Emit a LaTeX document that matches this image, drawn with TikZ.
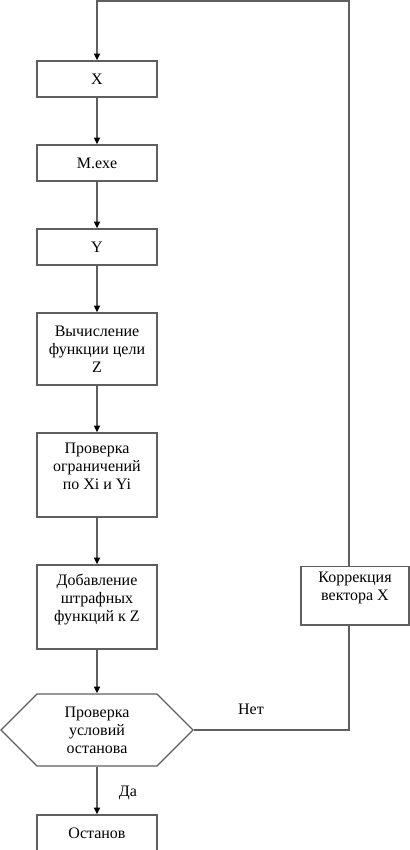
\documentclass[tikz,border=0pt]{standalone}
\usepackage{fontspec}
\setmainfont{Liberation Serif}
\usepackage{tikz}
\usetikzlibrary{arrows.meta, shapes.symbols}
\definecolor{myline}{RGB}{95,95,95}
\definecolor{mydark}{RGB}{0,0,0}
\tikzset{
  block/.style={rectangle, draw=myline, fill=white,
    minimum width=90pt, minimum height=27pt, align=center,
    inner sep=1pt, line width=1pt,
    font=\fontsize{12}{13.5}\selectfont, text=mydark},
  tallblock/.style={block, minimum height=54pt},
  bigblock/.style={block, minimum height=63pt},
  corrblock/.style={block, minimum width=81pt, minimum height=44pt},
  hexnode/.style={signal, signal to=west and east, signal pointer angle=90,
    draw=myline, fill=white, minimum width=144pt, minimum height=54pt,
    align=center, inner sep=0pt, line width=1pt,
    font=\fontsize{12}{13.5}\selectfont, text=mydark},
  lbl/.style={font=\fontsize{12}{13.5}\selectfont, text=mydark},
  arrow/.style={-{Triangle[length=5pt, width=4.5pt, color=mydark]},
    line width=1pt, color=myline},
  line/.style={line width=1pt, color=myline}
}
\begin{document}
\begin{tikzpicture}[x=0.75pt, y=-0.75pt]
  \useasboundingbox (0,0) rectangle (410,850);

  % ── main column ───────────────────────────────────────────────────────────
  \node[block]     (X)     at (97,79)  {X};
  \node[block]     (Mexe)  at (97,163) {M.exe};
  \node[block]     (Y)     at (97,247) {Y};
  \node[tallblock] (calc)  at (97,349) {Вычисление\\функции цели\\Z};
  \node[bigblock]  (check) at (97,475) {Проверка\\ограничений\\по Xi и Yi\\~};
  \node[bigblock]  (add)   at (97,607) {Добавление\\штрафных\\функций к Z\\~};
  \node[hexnode]   (stop)  at (97,730) {Проверка\\условий\\останова};
  \node[block]     (halt)  at (97,833) {Останов};

  % ── correction branch ─────────────────────────────────────────────────────
  \node[corrblock] (corr)  at (355,595.5) {Коррекция\\вектора X\\~};
  \coordinate (loop) at (349,1);

  % ── connectors ────────────────────────────────────────────────────────────
  \draw[arrow] (X) -- (Mexe);
  \draw[arrow] (Mexe) -- (Y);
  \draw[arrow] (Y) -- (calc);
  \draw[arrow] (calc) -- (check);
  \draw[arrow] (check) -- (add);
  \draw[arrow] (add.south) -- (stop.north);
  \draw[arrow] (stop.south) -- (halt.north);
  \draw[line]  (stop.east) -| (loop |- corr.south);
  \draw[arrow] (loop |- corr.north) -- (loop) -| (X.north);

  % ── labels ────────────────────────────────────────────────────────────────
  \node[lbl] (yes) at (128,793) {Да};
  \node[lbl] (no)  at (251,709) {Нет};
\end{tikzpicture}
\end{document}
